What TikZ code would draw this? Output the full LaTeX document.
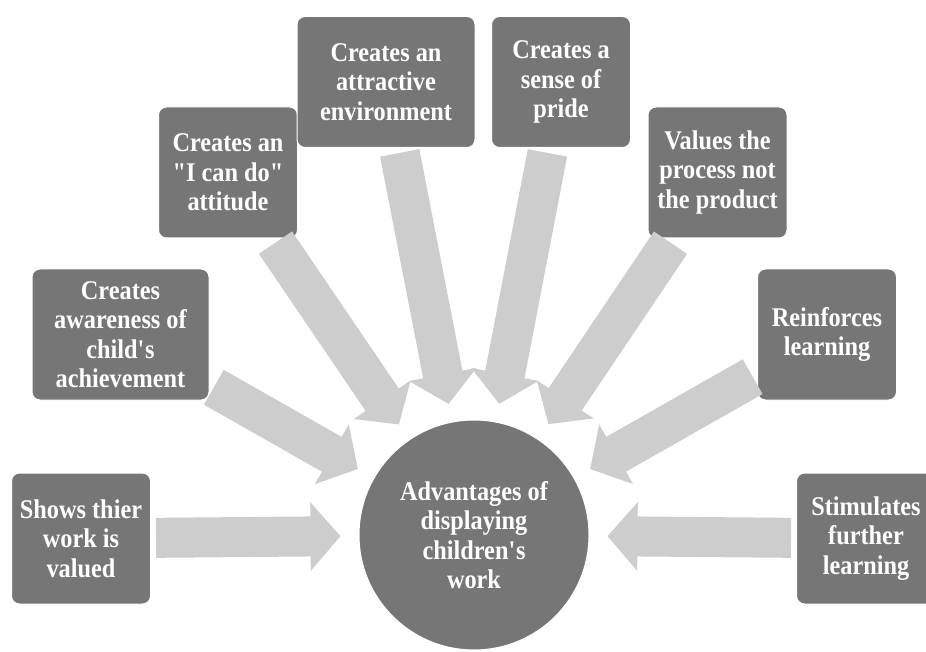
\documentclass[tikz,border=0pt]{standalone}
\usepackage{fontspec}
\usepackage{xcolor}
\usepackage{tikz}
\usetikzlibrary{arrows.meta}
\newfontfamily\boxfont[FakeStretch=0.9]{Liberation Serif}
\definecolor{boxgray}{HTML}{767676}
\definecolor{arrowgray}{HTML}{CDCDCD}

\begin{document}
\begin{tikzpicture}[x = 1pt, y = -1pt,
            idea/.style = {draw = white, line width = 1pt, fill = boxgray, rounded corners = 8pt, minimum width = 139pt, minimum height = 131pt, inner sep = 2pt, text = white, align = center, font = \boxfont\bfseries\fontsize{27}{29.5}\selectfont},
            hubnode/.style = {idea, circle, minimum size = 230pt},
            flow/.style = {arrowgray, line width = 40pt, -{Triangle[width = 67pt, length = 30pt]}, shorten < = 5pt, shorten > = 18pt}]
            \useasboundingbox (0,0) rectangle (926,652);
            \clip (0,0) rectangle (926,652);
            \node[hubnode] (hub) at (474,535) {Advantages of\\displaying\\children\textquotesingle s\\work};
            \node[idea] (valued) at (81,538.5) {Shows thier\\work is\\valued};
            \node[idea, minimum width = 177pt] (aware) at (120.5,334.5) {Creates\\awareness of\\child\textquotesingle s\\achievement};
            \node[idea] (cando) at (228,172.5) {Creates an\\"I can do"\\attitude};
            \node[idea, minimum width = 178pt] (attract) at (386,82) {Creates an\\attractive\\environment};
            \node[idea] (pride) at (561,82) {Creates a\\sense of\\pride};
            \node[idea] (process) at (717.5,172.5) {Values the\\process not\\the product};
            \node[idea] (reinforce) at (827,334.5) {Reinforces\\learning};
            \node[idea] (further) at (866,538.5) {Stimulates\\further\\learning};
            \draw[flow] (valued) -- (hub);
            \draw[flow] (aware) -- (hub);
            \draw[flow] (cando) -- (hub);
            \draw[flow] (attract) -- (hub);
            \draw[flow] (pride) -- (hub);
            \draw[flow] (process) -- (hub);
            \draw[flow] (reinforce) -- (hub);
            \draw[flow] (further) -- (hub);
\end{tikzpicture}
\end{document}
